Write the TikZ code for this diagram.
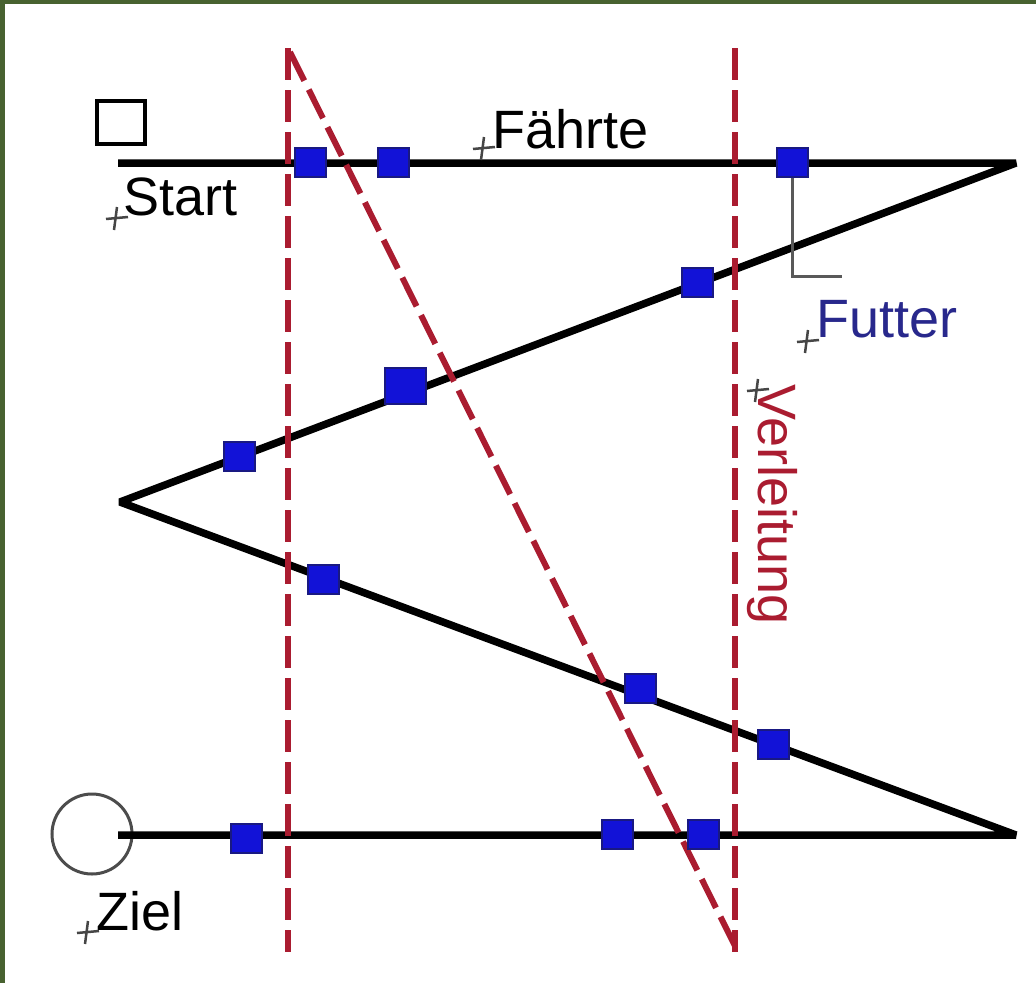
\documentclass[tikz,border=0pt]{standalone}
\usepackage{fontspec}
\setmainfont{Liberation Sans}
\definecolor{bordergreen}{RGB}{72,98,48}
\definecolor{trailred}{RGB}{170,28,48}
\definecolor{foodblue}{RGB}{18,18,215}
\definecolor{foodedge}{RGB}{25,25,130}
\definecolor{futtertext}{RGB}{40,40,140}
\definecolor{anchorgray}{RGB}{70,70,70}
\begin{document}
\begin{tikzpicture}[x=1pt,y=-1pt,
  track/.style={line width=7.5pt,black,line join=bevel},
  decoy/.style={line width=6pt,trailred,dash pattern=on 32pt off 10pt},
  foodbox/.style={rectangle,draw=foodedge,fill=foodblue,line width=2pt,minimum width=31pt,minimum height=29pt,inner sep=0pt},
  bigfoodbox/.style={foodbox,minimum width=41pt,minimum height=36pt},
  lbl/.style={anchor=base west,inner sep=0pt,font=\fontsize{54}{60}\selectfont},
  leader/.style={line width=3pt,gray!70!black},
  anchormark/.style={line width=2.5pt,anchorgray}]
% background and border
\fill[bordergreen] (0,0) rectangle (1036,983);
\fill[white] (5,4) rectangle (1036,983);
\useasboundingbox (0,0) rectangle (1036,983);
% track vertices
\coordinate (s0) at (118,163);
\coordinate (r1) at (1016,163);
\coordinate (l1) at (120,502);
\coordinate (r2) at (1016,835);
\coordinate (g0) at (118,835);
% start square and goal circle
\node[draw=black,line width=4pt,minimum width=48pt,minimum height=43pt,inner sep=0pt] (startbox) at (121,122) {};
\node[circle,draw=gray!60!black,line width=3pt,minimum size=80pt,inner sep=0pt] (goal) at (92,834) {};
% track
\draw[track] (s0) -- (r1) -- (l1) -- (r2) -- (g0);
% decoy dashed lines
\coordinate (v1a) at (288,48);
\coordinate (v1b) at (288,952);
\coordinate (v2a) at (735,48);
\coordinate (v2b) at (735,952);
\coordinate (da) at (290,52);
\coordinate (db) at (736,948);
\draw[decoy] (v1a) -- (v1b);
\draw[decoy] (v2a) -- (v2b);
\draw[decoy] (da) -- (db);
% food squares
\node[foodbox] (f1) at (310,162) {};
\node[foodbox] (f2) at (393,162) {};
\node[foodbox] (f3) at (792,162) {};
\node[foodbox] (f4) at (697,282) {};
\node[bigfoodbox] (f5) at (405,386) {};
\node[foodbox] (f6) at (239,456) {};
\node[foodbox] (f7) at (323,579) {};
\node[foodbox] (f8) at (640,688) {};
\node[foodbox] (f9) at (773,744) {};
\node[foodbox] (f10) at (246,838) {};
\node[foodbox] (f11) at (617,834) {};
\node[foodbox] (f12) at (703,834) {};
% Futter leader
\coordinate (fl) at (842,276);
\draw[leader] (f3.south) |- (fl);
% labels
\node[lbl] (tstart) at (123,215) {Start};
\node[lbl] (tfaehrte) at (492,148) {Fährte};
\node[lbl,text=futtertext] (tfutter) at (816,337) {Futter};
\node[lbl] (tziel) at (96,930) {Ziel};
\node[lbl,text=trailred,rotate=-90] (tverl) at (758,384) {Verleitung};
% anchor marks
\foreach \ax/\ay in {117/219, 484/149, 808/342, 88/933, 758/391}{
  \draw[anchormark] (\ax-11,\ay) -- (\ax+11,\ay-2);
  \draw[anchormark] (\ax,\ay-12) -- (\ax-3,\ay+11);
}
\end{tikzpicture}
\end{document}
